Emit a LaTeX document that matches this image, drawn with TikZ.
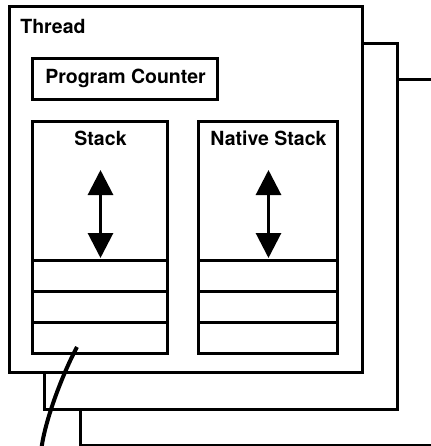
\documentclass[tikz,border=0pt]{standalone}
\usepackage{fontspec}
\setmainfont{TeX Gyre Heros}
\usetikzlibrary{arrows.meta, positioning}
\tikzset{
  frame/.style={draw=black, line width=1.5pt, fill=white, outer sep=0pt, inner sep=0pt, anchor=north west, minimum width=176.5pt, minimum height=183pt},
  box/.style={draw=black, line width=1.5pt, fill=white, outer sep=0pt, inner sep=0pt, align=center, font=\fontsize{9.75}{11}\selectfont\bfseries},
  cell/.style={box, minimum height=15.5pt},
  lbl/.style={inner sep=0pt, font=\fontsize{9.75}{11}\selectfont\bfseries},
  pusharrow/.style={{Triangle[length=12.5pt, width=12.5pt]}-{Triangle[length=12.5pt, width=12.5pt]}, line width=1.5pt},
  link/.style={line width=2pt}
}

\begin{document}
\begin{tikzpicture}[x=0.5pt, y=-0.5pt]
\useasboundingbox (0,0) rectangle (431,446);
\clip (0,0) rectangle (431,446);
% stacked thread frames, back to front
\node[frame] (thread3) at (81,79) {};
\node[frame] (thread2) at (45,43) {};
\node[frame] (thread) at (10,6) {};
\node[lbl, anchor=base west] (threadlbl) at ([xshift=5pt, yshift=-13.5pt]thread.north west) {Thread};
\node[box, anchor=north west, minimum width=92.5pt, minimum height=20.5pt] (pc) at (33,58) {Program Counter};
% stacks
\node[box, anchor=north west, minimum width=67.5pt, minimum height=69.5pt] (stack) at (33,121) {};
\node[box, right=15.5pt of stack, minimum width=69.5pt, minimum height=69.5pt] (native) {};
\node[lbl, anchor=base] (stacklbl) at ([yshift=-12pt]stack.north) {Stack};
\node[lbl, anchor=base] (nativelbl) at ([yshift=-12pt]native.north) {Native Stack};
\foreach \s/\w in {stack/67.5pt, native/69.5pt}{
  \node[cell, minimum width=\w, below=0pt of \s] (\s-1) {};
  \node[cell, minimum width=\w, below=0pt of \s-1] (\s-2) {};
  \node[cell, minimum width=\w, below=0pt of \s-2] (\s-3) {};
  \draw[pusharrow] ([yshift=-24.5pt]\s.north) -- ([yshift=1pt]\s.south);
}
\coordinate (tail) at (41,452);
\draw[link] ([xshift=-11.75pt, yshift=3pt]stack-3.south) .. controls +(-14,26) and +(3,-30) .. (tail);
\end{tikzpicture}
\end{document}
